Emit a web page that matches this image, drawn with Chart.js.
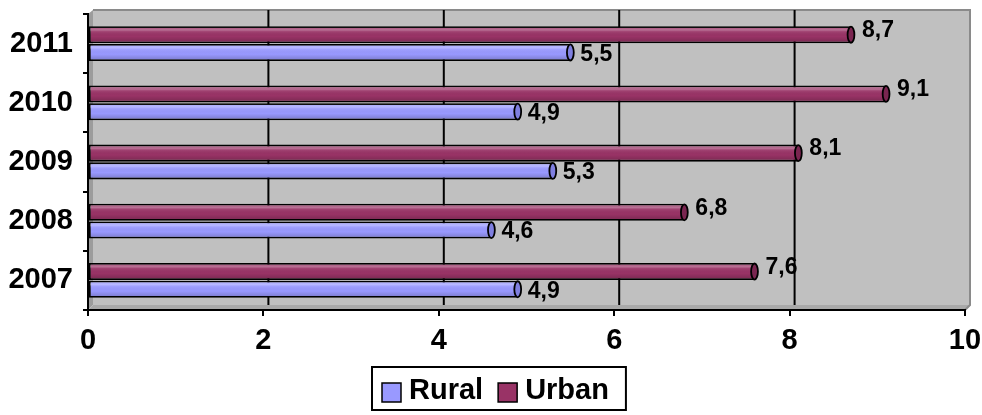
<!DOCTYPE html>
<html>
<head>
<meta charset="utf-8">
<script src="https://cdn.jsdelivr.net/npm/chart.js@4.4.1/dist/chart.umd.min.js"></script>
<style>
  html, body { margin: 0; padding: 0; background: #ffffff; }
  #wrap { width: 982px; height: 415px; position: relative; }
</style>
</head>
<body>
<div id="wrap"><canvas id="c" width="982" height="415"></canvas></div>
<script>
const categories = ['2011', '2010', '2009', '2008', '2007'];
const ruralValues = [5.5, 4.9, 5.3, 4.6, 4.9];
const urbanValues = [8.7, 9.1, 8.1, 6.8, 7.6];
const xTickValues = [0, 2, 4, 6, 8, 10];
const seriesNames = ['Rural', 'Urban'];

const FONT = "'Liberation Sans', Arial, sans-serif";
const DEPTH = 5;

function fmt(v) { return v.toFixed(1).replace('.', ','); }

const wallPlugin = {
  id: 'wall',
  beforeDraw(chart) {
    const { ctx, chartArea: a } = chart;
    const xs = chart.scales.x;
    const d = DEPTH;
    ctx.save();
    ctx.fillStyle = '#C0C0C0';
    ctx.fillRect(a.left + d, a.top - 4, a.right - a.left, a.bottom - a.top - 1);
    ctx.fillStyle = '#9c9c9c';
    ctx.beginPath();
    ctx.moveTo(a.left, a.top);
    ctx.lineTo(a.left + d, a.top - 4);
    ctx.lineTo(a.left + d, a.bottom - d);
    ctx.lineTo(a.left, a.bottom);
    ctx.closePath();
    ctx.fill();
    ctx.fillStyle = '#a9a9a9';
    ctx.beginPath();
    ctx.moveTo(a.left, a.bottom);
    ctx.lineTo(a.left + d, a.bottom - d);
    ctx.lineTo(a.right + d, a.bottom - d);
    ctx.lineTo(a.right, a.bottom);
    ctx.closePath();
    ctx.fill();
    ctx.strokeStyle = '#8a8a8a';
    ctx.lineWidth = 2;
    ctx.beginPath();
    ctx.moveTo(a.left + d, a.top - 4);
    ctx.lineTo(a.right + d, a.top - 4);
    ctx.lineTo(a.right + d, a.bottom - d);
    ctx.lineTo(a.right, a.bottom);
    ctx.stroke();
    ctx.strokeStyle = '#000';
    ctx.lineWidth = 2;
    xTickValues.forEach(v => {
      if (v === xs.min || v === xs.max) return;
      const px = xs.getPixelForValue(v) + d;
      ctx.beginPath();
      ctx.moveTo(px, a.top - 4);
      ctx.lineTo(px, a.bottom - d);
      ctx.stroke();
    });
    ctx.restore();
  }
};

const cylinderPlugin = {
  id: 'cylinder',
  afterDatasetsDraw(chart) {
    const { ctx } = chart;
    ctx.save();
    chart.data.datasets.forEach((ds, di) => {
      const meta = chart.getDatasetMeta(di);
      meta.data.forEach((bar, i) => {
        const p = bar.getProps(['x', 'y', 'base', 'height'], true);
        const top = p.y - p.height / 2;
        const h = p.height;
        const g = ctx.createLinearGradient(0, top, 0, top + h);
        g.addColorStop(0, 'rgba(255,255,255,0.10)');
        g.addColorStop(0.22, 'rgba(255,255,255,0.30)');
        g.addColorStop(0.32, 'rgba(255,255,255,0.08)');
        g.addColorStop(0.6, 'rgba(0,0,0,0.0)');
        g.addColorStop(1, 'rgba(0,0,0,0.22)');
        ctx.fillStyle = g;
        ctx.fillRect(p.base + 1, top + 1.5, p.x - p.base - 2, h - 3);
        ctx.beginPath();
        ctx.ellipse(p.x, p.y, Math.max(2.5, h * 0.2), h / 2 - 0.5, 0, 0, Math.PI * 2);
        ctx.fillStyle = ds.capColor;
        ctx.fill();
        ctx.lineWidth = 1.8;
        ctx.strokeStyle = '#000';
        ctx.stroke();
        ctx.font = 'bold 23px ' + FONT;
        ctx.fillStyle = '#000';
        ctx.textAlign = 'left';
        ctx.textBaseline = 'middle';
        ctx.fillText(fmt(ds.data[i]), p.x + ds.labelDx, p.y + ds.labelDy);
      });
    });
    ctx.restore();
  }
};

const legendBoxPlugin = {
  id: 'legendBox',
  afterDraw(chart) {
    const { ctx } = chart;
    const items = seriesNames.map(name => chart.data.datasets.find(d => d.label === name));
    ctx.save();
    ctx.font = 'bold 29px ' + FONT;
    const sq = 19, gapText = 8, gapItems = 15, padL = 10, padR = 17;
    const widths = items.map(d => sq + gapText + ctx.measureText(d.label).width);
    const total = padL + widths[0] + gapItems + widths[1] + padR;
    const cx = 499;
    const left = Math.round(cx - total / 2);
    const top = 367, height = 43;
    ctx.fillStyle = '#fff';
    ctx.fillRect(left, top, total, height);
    ctx.strokeStyle = '#000';
    ctx.lineWidth = 2;
    ctx.strokeRect(left, top, total, height);
    let x = left + padL;
    const cy = 391;
    items.forEach((d, k) => {
      ctx.fillStyle = d.backgroundColor;
      ctx.fillRect(x, cy - 8, sq, sq);
      ctx.lineWidth = 1.5;
      ctx.strokeStyle = '#000';
      ctx.strokeRect(x, cy - 8, sq, sq);
      ctx.fillStyle = '#000';
      ctx.textAlign = 'left';
      ctx.textBaseline = 'middle';
      ctx.fillText(d.label, x + sq + gapText, cy);
      x += widths[k] + gapItems;
    });
    ctx.restore();
  }
};

new Chart(document.getElementById('c'), {
  type: 'bar',
  data: {
    labels: categories,
    datasets: [
      {
        label: 'Urban',
        data: urbanValues,
        backgroundColor: '#993366',
        capColor: '#7a2550',
        borderColor: '#000',
        borderWidth: 1.8,
        borderSkipped: false,
        labelDx: 11,
        labelDy: -4,
        categoryPercentage: 0.6,
        barPercentage: 0.96
      },
      {
        label: 'Rural',
        data: ruralValues,
        backgroundColor: '#9999FF',
        capColor: '#7f7fe0',
        borderColor: '#000',
        borderWidth: 1.8,
        borderSkipped: false,
        labelDx: 10,
        labelDy: 2,
        categoryPercentage: 0.6,
        barPercentage: 0.96
      }
    ]
  },
  options: {
    indexAxis: 'y',
    responsive: false,
    animation: false,
    devicePixelRatio: 1,
    layout: { padding: { top: 14, right: 17, bottom: 48, left: 0 } },
    plugins: {
      legend: { display: false },
      tooltip: { enabled: false }
    },
    scales: {
      x: {
        type: 'linear',
        min: 0,
        max: 10,
        afterBuildTicks(scale) { scale.ticks = xTickValues.map(v => ({ value: v })); },
        afterFit(scale) { scale.height = 57; scale.paddingLeft = 0; scale.paddingRight = 0; },
        border: { display: true, color: '#000', width: 2 },
        grid: { drawOnChartArea: false, drawTicks: true, tickLength: 6, color: '#000', lineWidth: 2 },
        ticks: {
          color: '#000',
          padding: 8,
          font: { family: FONT, size: 29, weight: 'bold' },
          maxRotation: 0
        }
      },
      y: {
        type: 'category',
        afterFit(scale) { scale.width = 88; scale.paddingTop = 0; scale.paddingBottom = 0; },
        border: { display: true, color: '#000', width: 2 },
        grid: { offset: true, drawOnChartArea: false, drawTicks: true, tickLength: 5, color: '#000', lineWidth: 2 },
        ticks: {
          color: '#000',
          padding: 10,
          font: { family: FONT, size: 29, weight: 'bold' }
        }
      }
    }
  },
  plugins: [wallPlugin, cylinderPlugin, legendBoxPlugin]
});
</script>
</body>
</html>
